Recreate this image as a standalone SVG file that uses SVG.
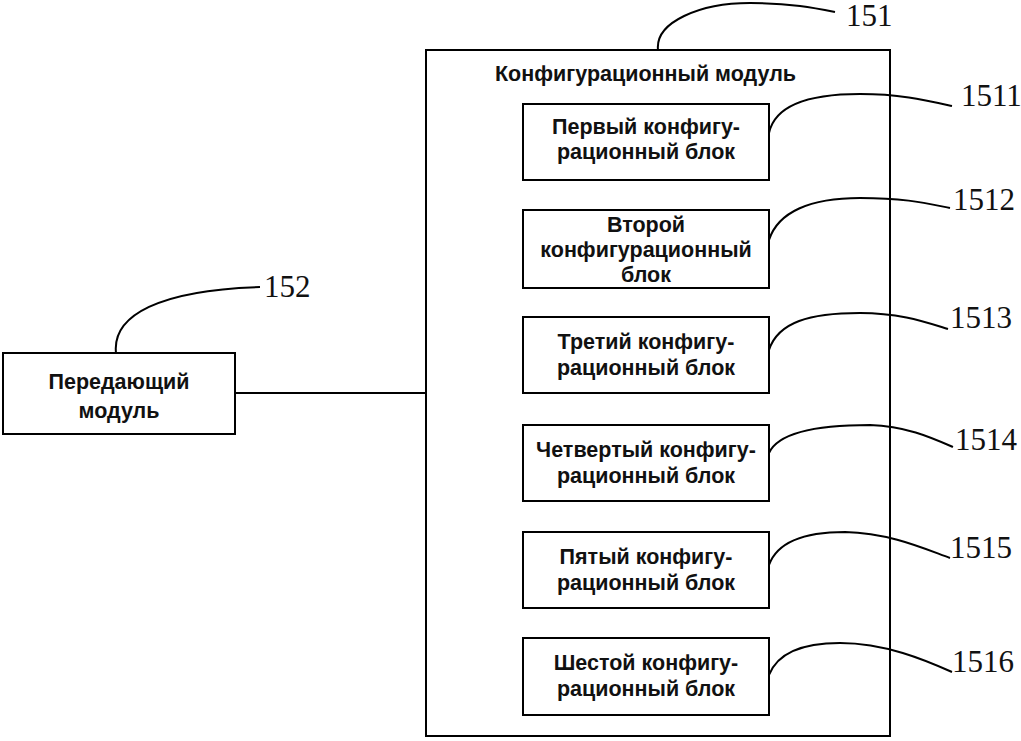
<svg xmlns="http://www.w3.org/2000/svg" width="1021" height="741" viewBox="0 0 1021 741">
<style>
.box{fill:#fff;stroke:#000;stroke-width:2}
.lbl{font-family:"Liberation Sans",Arial,sans-serif;font-weight:bold;font-size:21.5px;fill:#111;text-anchor:middle}
.ttl{font-family:"Liberation Sans",Arial,sans-serif;font-weight:bold;font-size:21.5px;fill:#111}
.num{font-family:"Liberation Serif","Times New Roman",serif;font-size:31px;fill:#111}
.lead{fill:none;stroke:#000;stroke-width:2}
</style>
<rect width="1021" height="741" fill="#fff"/>
<g id="n151">
<rect class="box" x="426" y="50" width="464" height="686"/>
<text class="ttl" x="495" y="81">Конфигурационный модуль</text>
<path class="lead" d="M658,50 C655,22 700,3 750,3 C790,3 815,8 835,12"/>
<text class="num" x="846" y="26">151</text>
</g>
<g id="n152">
<rect class="box" x="3" y="353" width="232" height="81"/>
<text class="lbl" x="119" y="389">Передающий</text>
<text class="lbl" x="119" y="418">модуль</text>
<path class="lead" d="M116,353 C112,315 160,290 260,287"/>
<text class="num" x="264" y="297">152</text>
</g>
<g id="n1511">
<rect class="box" x="523" y="104" width="246" height="76"/>
<text class="lbl" x="646" y="134">Первый конфигу-</text>
<text class="lbl" x="646" y="159">рационный блок</text>
</g>
<g id="n1512">
<rect class="box" x="523" y="210" width="246" height="78"/>
<text class="lbl" x="646" y="232">Второй</text>
<text class="lbl" x="646" y="257">конфигурационный</text>
<text class="lbl" x="646" y="282">блок</text>
</g>
<g id="n1513">
<rect class="box" x="523" y="317" width="246" height="76"/>
<text class="lbl" x="646" y="349">Третий конфигу-</text>
<text class="lbl" x="646" y="375">рационный блок</text>
</g>
<g id="n1514">
<rect class="box" x="523" y="425" width="246" height="76"/>
<text class="lbl" x="646" y="457">Четвертый конфигу-</text>
<text class="lbl" x="646" y="483">рационный блок</text>
</g>
<g id="n1515">
<rect class="box" x="523" y="532" width="246" height="76"/>
<text class="lbl" x="646" y="564">Пятый конфигу-</text>
<text class="lbl" x="646" y="590">рационный блок</text>
</g>
<g id="n1516">
<rect class="box" x="523" y="638" width="246" height="77"/>
<text class="lbl" x="646" y="670">Шестой конфигу-</text>
<text class="lbl" x="646" y="696">рационный блок</text>
</g>
<g id="connectors">
<line class="lead" x1="235" y1="393" x2="426" y2="393"/>
<path class="lead" d="M769,133 C775,105 810,94 860,94 C900,94 925,100 952,106"/>
<path class="lead" d="M769,240 C778,212 810,198 860,198 C905,198 925,203 950,208"/>
<path class="lead" d="M769,350 C778,322 810,313 860,313 C900,313 925,322 948,329"/>
<path class="lead" d="M769,453 C778,433 815,425 870,425 C905,426 930,437 953,447"/>
<path class="lead" d="M769,565 C778,540 810,532 845,532 C890,533 925,549 950,558"/>
<path class="lead" d="M769,675 C778,652 805,643 840,643 C885,643 925,660 952,672"/>
</g>
<g id="refs">
<text class="num" x="961" y="106">1511</text>
<text class="num" x="953" y="210">1512</text>
<text class="num" x="950" y="328">1513</text>
<text class="num" x="955" y="450">1514</text>
<text class="num" x="950" y="558">1515</text>
<text class="num" x="952" y="672">1516</text>
</g>
</svg>
